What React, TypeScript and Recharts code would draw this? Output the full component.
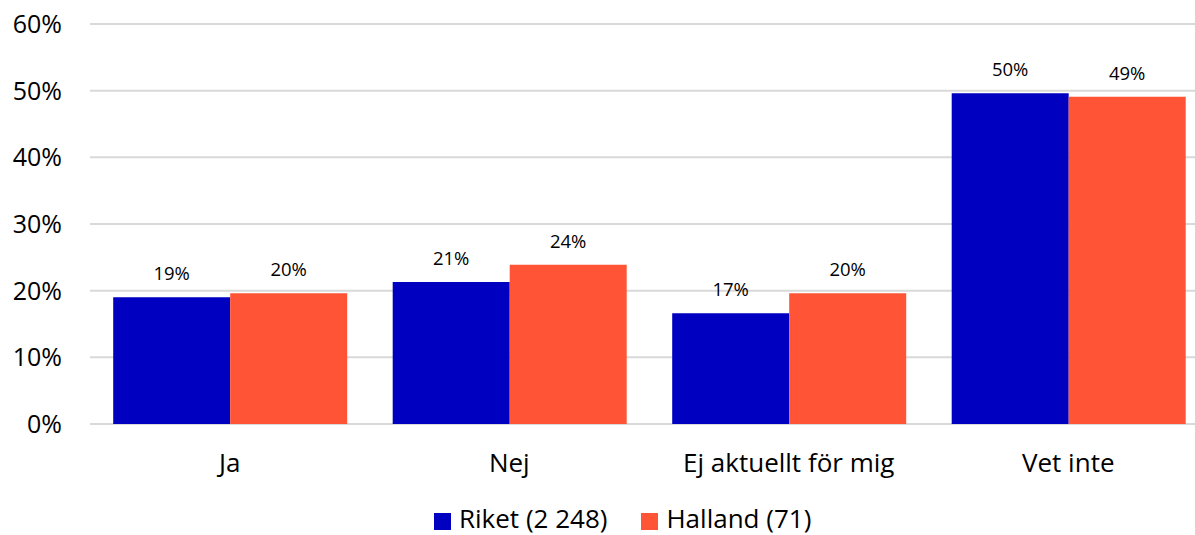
import { BarChart, Bar, XAxis, YAxis, CartesianGrid, Legend, LabelList } from 'recharts';

const categories = ['Ja', 'Nej', 'Ej aktuellt för mig', 'Vet inte'];
const riket = [19.0, 21.3, 16.6, 49.6];
const halland = [19.6, 23.9, 19.6, 49.1];
const yTicks = [0, 10, 20, 30, 40, 50, 60];

const seriesNames = ['Riket (2 248)', 'Halland (71)'];
const BLUE = '#0000C0';
const ORANGE = '#FF5435';
const FONT = '"Open Sans", Lato, sans-serif';

const data = categories.map((c, i) => ({ name: c, riket: riket[i], halland: halland[i] }));

const LegendContent = () => (
  <div style={{ height: 51, display: 'flex', alignItems: 'center', paddingLeft: 434, paddingTop: 16, boxSizing: 'border-box', fontFamily: FONT, fontSize: 26, color: '#000' }}>
    {[BLUE, ORANGE].map((col, i) => (
      <div key={i} style={{ display: 'flex', alignItems: 'center', marginRight: 34 }}>
        <span style={{ width: 17, height: 17, background: col, display: 'inline-block', marginRight: 8, position: 'relative', top: 4 }} />
        <span style={{ lineHeight: '26px' }}>{seriesNames[i]}</span>
      </div>
    ))}
  </div>
);

export default function App() {
  return (
    <div style={{ position: 'absolute', left: 0, top: 0, width: 1195, height: 535, overflow: 'hidden', background: '#fff' }}>
      <BarChart
        width={1208}
        height={535}
        data={data}
        margin={{ top: 24, right: 0, bottom: 0, left: 0 }}
        barCategoryGap="8.3%"
        barGap={0}
      >
        <CartesianGrid vertical={false} stroke="#d9d9d9" strokeWidth={2} />
        <XAxis
          dataKey="name"
          axisLine={false}
          tickLine={false}
          height={60}
          tickMargin={24}
          tick={{ fill: '#000', fontSize: 26, fontFamily: FONT }}
        />
        <YAxis
          width={90}
          domain={[0, 60]}
          ticks={yTicks}
          axisLine={false}
          tickLine={false}
          tickMargin={22}
          tickFormatter={(v: number) => `${v}%`}
          tick={{ fill: '#000', fontSize: 25, fontFamily: FONT }}
        />
        <Legend verticalAlign="bottom" content={LegendContent} wrapperStyle={{ left: 0, width: 1208 }} />
        <Bar dataKey="riket" fill={BLUE} isAnimationActive={false}>
          <LabelList dataKey="riket" position="top" offset={17} formatter={(v: number) => `${Math.round(v)}%`} style={{ fill: '#000', fontSize: 18.5, fontFamily: FONT }} />
        </Bar>
        <Bar dataKey="halland" fill={ORANGE} isAnimationActive={false}>
          <LabelList dataKey="halland" position="top" offset={17} formatter={(v: number) => `${Math.round(v)}%`} style={{ fill: '#000', fontSize: 18.5, fontFamily: FONT }} />
        </Bar>
      </BarChart>
    </div>
  );
}
